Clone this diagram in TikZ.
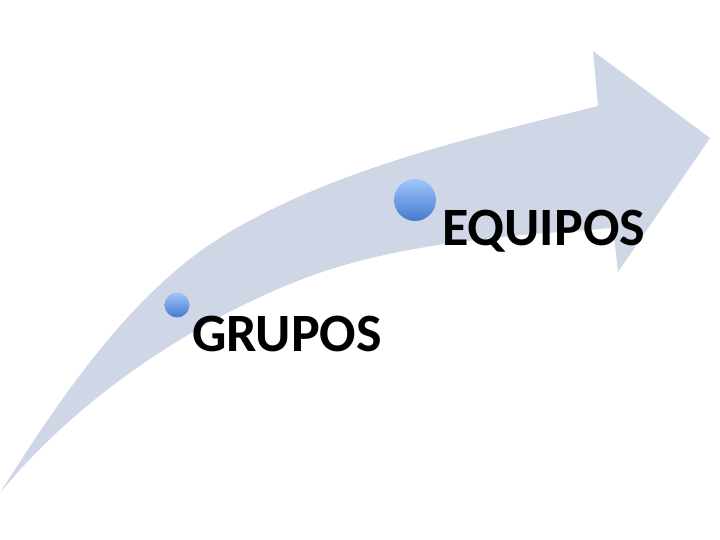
\documentclass[tikz,border=0pt]{standalone}
\usepackage{fontspec}
\setmainfont{Carlito}
\definecolor{arrowfill}{RGB}{207,215,230}
\definecolor{balltop}{RGB}{160,198,250}
\definecolor{ballbot}{RGB}{68,122,208}
\tikzset{
  dot/.style={circle, inner sep=0pt, shade, top color=balltop, bottom color=ballbot, draw=none},
  label/.style={anchor=base west, inner sep=0pt, font=\fontsize{54}{60}\selectfont\bfseries, text=black}
}
\begin{document}
\begin{tikzpicture}[x=1pt,y=-1pt]
\useasboundingbox (0,0) rectangle (720,540);
\fill[arrowfill]
  (0,493) .. controls (65,390) and (138,284) .. (233,230)
  .. controls (344,166) and (474,137) .. (598,106)
  -- (593,51) -- (710,138) -- (618,272) -- (613,228)
  .. controls (508,236) and (398,242) .. (300,280)
  .. controls (188,324) and (76,400) .. (0,493)
  -- cycle;
\node[dot, minimum size=25pt] (c1) at (177,305) {};
\node[dot, minimum size=42pt] (c2) at (415,200) {};
\node[label] (t1) at (192,351) {GRUPOS};
\node[label] (t2) at (442,245) {EQUIPOS};
\end{tikzpicture}
\end{document}
